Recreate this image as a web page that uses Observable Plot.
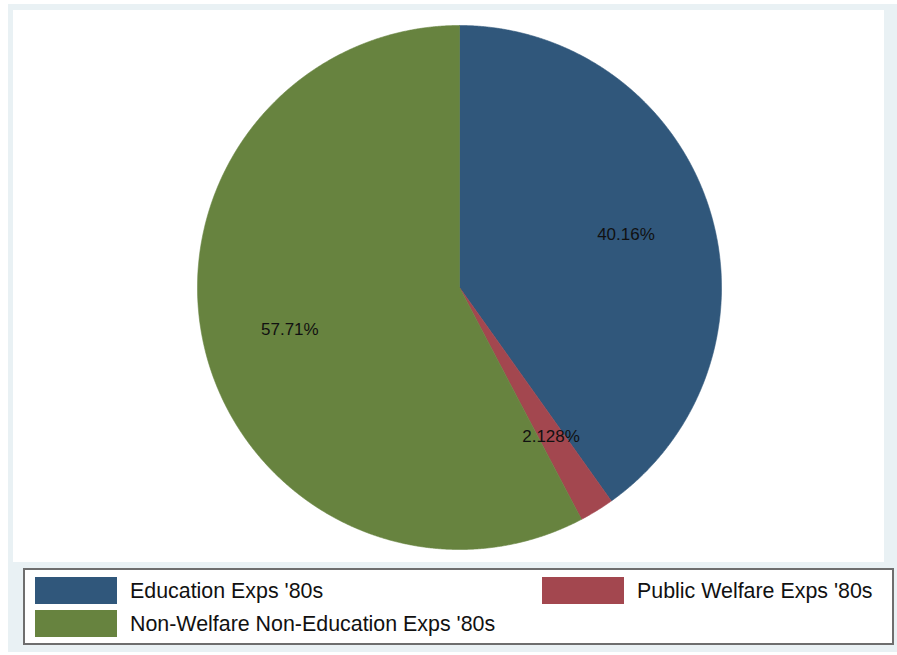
<!DOCTYPE html>
<html><head><meta charset="utf-8">
<script src="https://cdn.jsdelivr.net/npm/d3@7"></script>
<script src="https://cdn.jsdelivr.net/npm/@observablehq/plot@0.6"></script>
<style>
body{margin:0;background:#fff;font-family:"Liberation Sans",Arial,sans-serif;}
#frame{position:absolute;left:8px;top:4px;width:889px;height:648px;background:#e9f1f4;}
#plot{position:absolute;left:13px;top:10px;width:871px;height:552px;background:#fff;}
#legend{position:absolute;left:23px;top:568px;width:867px;height:73px;border:2px solid #6e6e6e;background:#fff;}
.sw{position:absolute;width:82px;height:27px;}
.lt{position:absolute;font-size:21.4px;color:#111;line-height:22px;white-space:nowrap;}
</style></head>
<body>
<div id="frame"></div>
<div id="plot"></div>
<div id="legend"></div>
<script>
const categories = ["Education Exps '80s", "Public Welfare Exps '80s", "Non-Welfare Non-Education Exps '80s"];
const shares = [40.16, 2.128, 57.71];
const sliceLabels = ["40.16%", "2.128%", "57.71%"];
const colors = ["#30577b", "#a3474f", "#67833f"];

const total = d3.sum(shares);
const slicePts = [];
const labelPts = [];
let cum = 0;
categories.forEach((cat, i) => {
  const a0 = cum / total * 2 * Math.PI;
  cum += shares[i];
  const a1 = cum / total * 2 * Math.PI;
  slicePts.push({cat, x: 0, y: 0});
  const n = Math.max(2, Math.ceil((a1 - a0) / 0.004));
  for (let k = 0; k <= n; k++) {
    const t = a0 + (a1 - a0) * k / n;
    slicePts.push({cat, x: Math.sin(t), y: Math.cos(t)});
  }
  slicePts.push({cat, x: 0, y: 0});
  const m = (a0 + a1) / 2;
  labelPts.push({cat, label: sliceLabels[i], x: 0.667 * Math.sin(m), y: 0.667 * Math.cos(m)});
});

const chart = Plot.plot({
  width: 871, height: 552, margin: 0,
  style: {background: "#fff", fontFamily: "Liberation Sans, Arial, sans-serif"},
  x: {domain: [-1, 1], range: [184, 708], axis: null},
  y: {domain: [-1, 1], range: [539, 15], axis: null},
  color: {domain: categories, range: colors},
  marks: [
    Plot.line(slicePts, {x: "x", y: "y", z: "cat", fill: "cat", stroke: "cat", strokeWidth: 0.6, curve: "linear"}),
    Plot.text(labelPts, {x: "x", y: "y", text: "label", fontSize: 17, fill: "#111"})
  ]
});
document.getElementById("plot").appendChild(chart);

// legend (rows filled left to right, as in the reference)
const legend = document.getElementById("legend");
const slots = [[10, 7], [517, 7], [10, 40]];
categories.forEach((cat, i) => {
  const [lx, ly] = slots[i];
  const sw = document.createElement("div");
  sw.className = "sw";
  sw.style.left = lx + "px"; sw.style.top = ly + "px";
  sw.style.background = colors[i];
  legend.appendChild(sw);
  const t = document.createElement("div");
  t.className = "lt";
  t.textContent = cat;
  t.style.left = (lx + 95) + "px"; t.style.top = (ly + 3) + "px";
  legend.appendChild(t);
});
</script>
</body></html>
